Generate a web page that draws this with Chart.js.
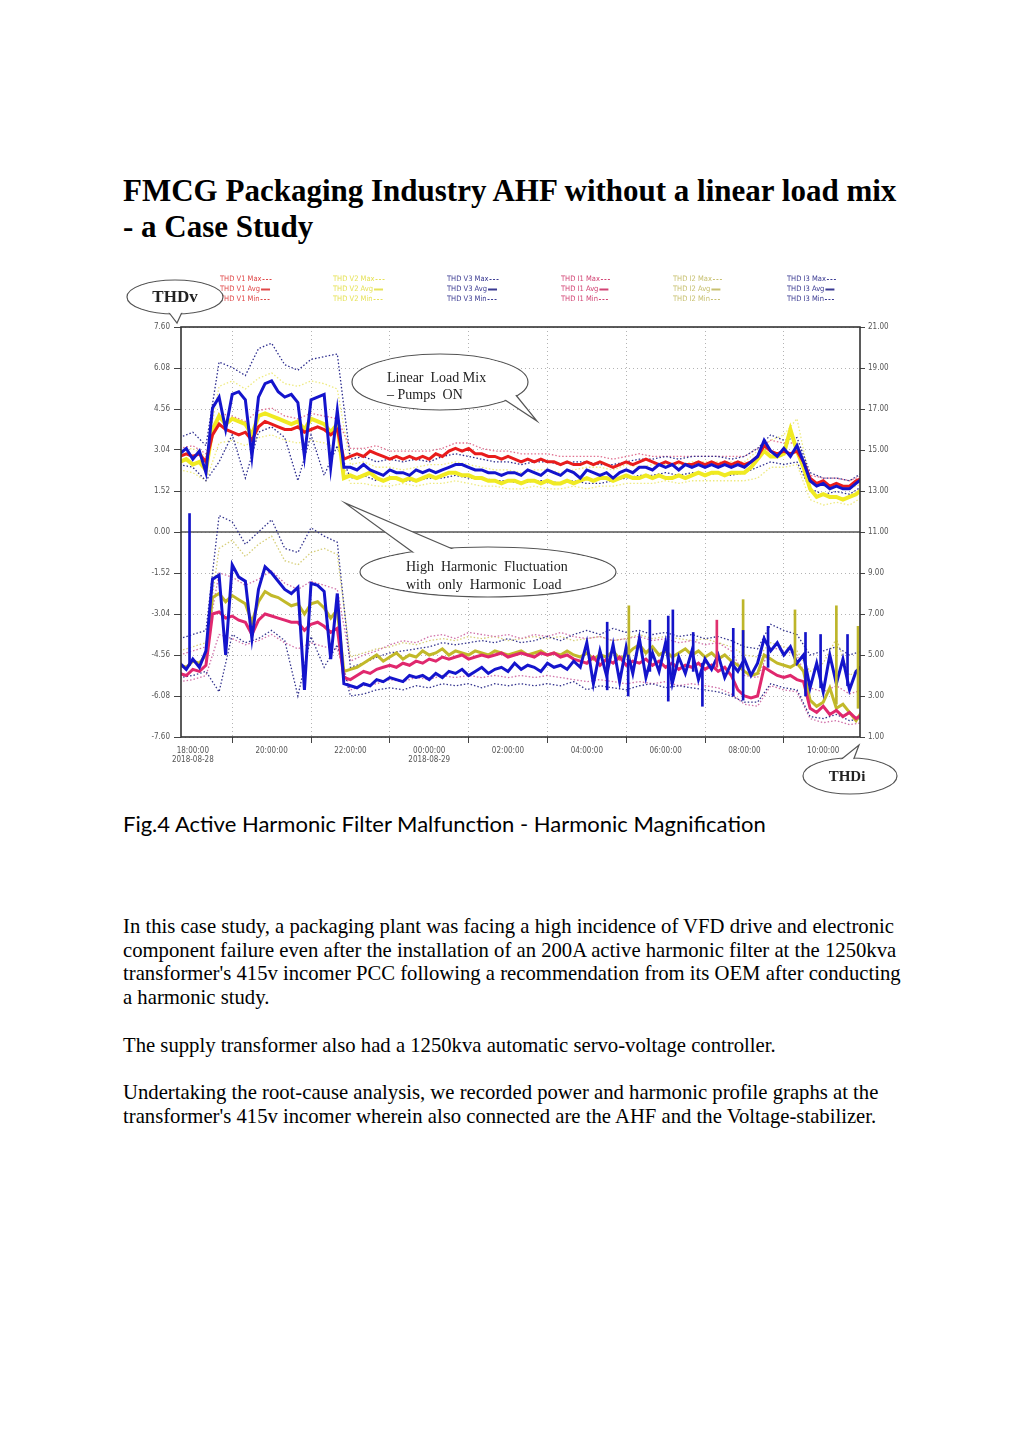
<!DOCTYPE html>
<html>
<head>
<meta charset="utf-8">
<script src="https://cdn.jsdelivr.net/npm/chart.js@4.4.0/dist/chart.umd.min.js"></script>
<style>
body { margin: 0; background: #fff; width: 1023px; height: 1447px; position: relative; overflow: hidden; }
#title { position: absolute; left: 123px; top: 173px; width: 820px; font: bold 31px/36px 'Liberation Serif', serif; color: #000; white-space: nowrap; }
#wrap { position: absolute; left: 123px; top: 268px; width: 780px; height: 530px; }
#caption { position: absolute; left: 123px; top: 810px; font: 22px/27px Lato, sans-serif; color: #000; white-space: nowrap; }
#body { position: absolute; left: 123px; top: 915px; font: 20.7px/23.7px 'Liberation Serif', serif; color: #000; white-space: nowrap; }
#body p { margin: 0 0 23.7px 0; }
</style>
</head>
<body>
<div id="title">FMCG Packaging Industry AHF without a linear load mix<br>- a Case Study</div>
<div id="wrap"><canvas id="thd" width="780" height="530"></canvas></div>
<div id="caption">Fig.4 Active Harmonic Filter Malfunction - Harmonic Magnification</div>
<div id="body">
<p>In this case study, a packaging plant was facing a high incidence of VFD drive and electronic<br>component failure even after the installation of an 200A active harmonic filter at the 1250kva<br>transformer's 415v incomer PCC following a recommendation from its OEM after conducting<br>a harmonic study.</p>
<p>The supply transformer also had a 1250kva automatic servo-voltage controller.</p>
<p>Undertaking the root-cause analysis, we recorded power and harmonic profile graphs at the<br>transformer's 415v incomer wherein also connected are the AHF and the Voltage-stabilizer.</p>
</div>
<script>
// time in minutes after 18:00 on 2018-08-28
const xTicks = [0, 120, 240, 360, 480, 600, 720, 840, 960];
const xTickLabels = [['18:00:00', '2018-08-28'], '20:00:00', '22:00:00', ['00:00:00', '2018-08-29'], '02:00:00', '04:00:00', '06:00:00', '08:00:00', '10:00:00'];
const leftTicks = [-7.60, -6.08, -4.56, -3.04, -1.52, 0, 1.52, 3.04, 4.56, 6.08, 7.60];
const rightTicks = [1, 3, 5, 7, 9, 11, 13, 15, 17, 19, 21];

// 10 minute samples (averages)
const tAvg = [
  -20, -10, 0, 10, 20, 30, 40, 50, 60, 70,
  80, 90, 100, 110, 120, 130, 140, 150, 160, 170,
  180, 190, 200, 210, 220, 230, 240, 250, 260, 270,
  280, 290, 300, 310, 320, 330, 340, 350, 360, 370,
  380, 390, 400, 410, 420, 430, 440, 450, 460, 470,
  480, 490, 500, 510, 520, 530, 540, 550, 560, 570,
  580, 590, 600, 610, 620, 630, 640, 650, 660, 670,
  680, 690, 700, 710, 720, 730, 740, 750, 760, 770,
  780, 790, 800, 810, 820, 830, 840, 850, 860, 870,
  880, 890, 900, 910, 920, 930, 940, 950, 960, 970,
  980, 990, 1000, 1010, 1020
];
// 20 minute samples (max / min)
const tMm = [
  -20, 0, 20, 40, 60, 80, 100, 120, 140, 160,
  180, 200, 220, 240, 260, 280, 300, 320, 340, 360,
  380, 400, 420, 440, 460, 480, 500, 520, 540, 560,
  580, 600, 620, 640, 660, 680, 700, 720, 740, 760,
  780, 800, 820, 840, 860, 880, 900, 920, 940, 960,
  980, 1000, 1020
];

// THDv (left axis)
const v1Avg = [
  2.8, 2.9, 2.8, 2.9, 2.6, 3.6, 4.0, 3.8, 3.7, 3.6,
  3.7, 3.4, 3.9, 4.1, 4.0, 3.9, 3.8, 3.8, 3.9, 3.7,
  3.8, 3.9, 3.8, 3.6, 3.8, 2.7, 2.8, 2.9, 2.8, 3.0,
  2.9, 2.8, 2.7, 2.8, 2.7, 2.8, 2.7, 2.8, 2.7, 2.9,
  2.8, 3.0, 3.1, 3.0, 3.1, 2.9, 2.9, 2.8, 2.8, 2.7,
  2.8, 2.7, 2.6, 2.7, 2.6, 2.7, 2.6, 2.6, 2.5, 2.6,
  2.5, 2.5, 2.6, 2.5, 2.6, 2.5, 2.4, 2.5, 2.6, 2.5,
  2.6, 2.7, 2.6, 2.5, 2.6, 2.5, 2.6, 2.5, 2.5, 2.6,
  2.5, 2.6, 2.5, 2.6, 2.5, 2.6, 2.5, 2.6, 2.8, 3.2,
  3.0, 2.9, 3.0, 2.9, 3.0, 2.6, 2.0, 1.8, 1.9, 1.7,
  1.8, 1.7, 1.7, 1.9, 2.0
];
const v2Avg = [
  2.6, 2.7, 2.5, 2.6, 2.3, 3.8, 4.3, 4.0, 4.2, 4.1,
  4.0, 3.6, 4.3, 4.4, 4.3, 4.2, 4.1, 4.0, 4.1, 3.8,
  4.2, 4.1, 4.0, 3.7, 4.0, 2.0, 2.1, 2.0, 2.1, 2.2,
  2.0, 1.9, 2.0, 2.0, 1.9, 2.0, 1.9, 2.0, 2.1, 2.0,
  2.1, 2.2, 2.2, 2.1, 2.1, 2.0, 2.0, 1.9, 1.9, 1.8,
  1.9, 1.9, 1.8, 1.9, 1.9, 1.8, 1.9, 1.8, 1.8, 1.9,
  1.8, 1.9, 2.0, 1.9, 2.0, 2.0, 1.9, 2.0, 2.1, 2.0,
  2.0, 2.1, 2.0, 2.1, 2.0, 2.0, 2.1, 2.0, 2.1, 2.2,
  2.1, 2.2, 2.2, 2.1, 2.2, 2.2, 2.2, 2.4, 2.7, 3.0,
  2.8, 2.8, 2.9, 3.8, 3.0, 2.4, 1.6, 1.3, 1.4, 1.3,
  1.3, 1.2, 1.3, 1.4, 1.6
];
const v3Avg = [
  2.9, 3.1, 2.7, 3.0, 2.2, 4.6, 5.0, 3.8, 5.1, 5.2,
  4.9, 2.8, 5.0, 5.5, 5.6, 5.2, 5.0, 5.1, 4.8, 2.8,
  4.9, 5.0, 5.1, 2.4, 4.5, 2.4, 2.4, 2.3, 2.5, 2.3,
  2.2, 2.1, 2.3, 2.2, 2.2, 2.1, 2.3, 2.2, 2.3, 2.2,
  2.3, 2.4, 2.5, 2.5, 2.4, 2.3, 2.3, 2.2, 2.2, 2.1,
  2.2, 2.2, 2.1, 2.3, 2.2, 2.1, 2.3, 2.2, 2.1, 2.3,
  2.2, 2.0, 2.3, 2.2, 2.1, 2.2, 2.0, 2.2, 2.3, 2.2,
  2.4, 2.4, 2.3, 2.5, 2.4, 2.5, 2.3, 2.5, 2.4, 2.5,
  2.4, 2.5, 2.4, 2.5, 2.4, 2.5, 2.4, 2.6, 2.8, 3.4,
  3.0, 2.8, 3.1, 2.8, 3.2, 2.6, 1.9, 1.7, 1.8, 1.6,
  1.7, 1.6, 1.6, 1.8, 2.0
];
const v1Max = [
  3.1, 3.2, 2.9, 4.4, 4.3, 4.1, 4.5, 4.6, 4.3, 4.2,
  4.4, 4.3, 4.2, 3.1, 3.1, 3.2, 3.0, 3.0, 3.0, 3.0,
  3.1, 3.3, 3.3, 3.1, 3.0, 3.0, 2.9, 2.9, 2.9, 2.8,
  2.8, 2.8, 2.8, 2.7, 2.8, 2.9, 2.8, 2.8, 2.8, 2.8,
  2.8, 2.8, 2.8, 2.8, 3.1, 3.4, 3.3, 3.3, 2.1, 2.0,
  2.0, 1.9, 2.1
];
const v2Max = [
  3.0, 3.1, 2.8, 5.4, 5.6, 5.3, 5.7, 5.9, 5.5, 5.4,
  5.6, 5.5, 5.3, 2.5, 2.6, 2.4, 2.4, 2.3, 2.4, 2.5,
  2.5, 2.6, 2.5, 2.4, 2.3, 2.3, 2.2, 2.3, 2.3, 2.2,
  2.3, 2.4, 2.4, 2.3, 2.5, 2.4, 2.5, 2.5, 2.5, 2.6,
  2.6, 2.6, 2.6, 2.6, 3.0, 3.4, 3.6, 4.2, 1.9, 1.7,
  1.7, 1.6, 1.8
];
const v2Min = [
  2.3, 2.2, 1.9, 3.3, 3.4, 3.2, 3.5, 3.6, 3.4, 3.3,
  3.4, 3.3, 3.1, 1.8, 1.8, 1.7, 1.7, 1.8, 1.7, 1.8,
  1.8, 1.9, 1.8, 1.7, 1.7, 1.6, 1.6, 1.7, 1.6, 1.6,
  1.7, 1.6, 1.7, 1.7, 1.8, 1.8, 1.8, 1.9, 1.8, 1.9,
  1.9, 1.9, 1.9, 1.9, 2.0, 2.4, 2.4, 2.5, 1.2, 1.0,
  1.1, 1.0, 1.3
];
const v3Max = [
  3.5, 3.7, 3.2, 6.3, 6.1, 5.8, 6.8, 7.0, 6.2, 6.0,
  6.4, 6.5, 6.6, 2.7, 2.8, 2.6, 2.7, 2.6, 2.7, 2.6,
  2.8, 2.9, 2.8, 2.7, 2.6, 2.6, 2.5, 2.6, 2.6, 2.5,
  2.6, 2.6, 2.5, 2.5, 2.6, 2.7, 2.7, 2.8, 2.7, 2.8,
  2.8, 2.8, 2.7, 2.8, 3.1, 3.6, 3.4, 3.5, 2.2, 2.0,
  2.0, 1.9, 2.2
];
const v3Min = [
  2.5, 2.4, 1.9, 2.6, 3.6, 2.0, 3.7, 3.9, 3.5, 1.9,
  3.6, 2.1, 3.2, 2.0, 2.1, 1.9, 2.0, 1.9, 1.9, 2.0,
  2.0, 2.1, 2.0, 2.0, 1.9, 1.9, 1.8, 1.9, 1.9, 1.8,
  1.9, 1.8, 1.8, 1.9, 2.0, 2.1, 2.1, 2.2, 2.1, 2.2,
  2.1, 2.2, 2.1, 2.2, 2.4, 2.6, 2.5, 2.6, 1.6, 1.4,
  1.5, 1.4, 1.7
];

// THDi (right axis)
const i1Avg = [
  4.1, 4.0, 4.3, 4.2, 4.5, 7.0, 7.1, 6.8, 6.9, 6.7,
  6.6, 6.0, 6.7, 7.0, 6.9, 6.8, 6.7, 6.6, 6.6, 6.2,
  6.5, 6.6, 6.4, 6.1, 6.3, 3.9, 3.8, 4.0, 4.2, 4.1,
  4.3, 4.4, 4.5, 4.4, 4.6, 4.5, 4.7, 4.6, 4.8, 4.7,
  4.9, 4.8, 4.9, 5.0, 4.8, 4.9, 5.0, 4.9, 5.0, 5.1,
  4.9, 5.0, 5.1, 5.0, 4.9, 5.1, 5.0, 5.1, 4.9, 5.0,
  4.8, 4.7, 4.6, 4.9, 4.5, 4.8, 4.6, 4.9, 4.5, 4.7,
  4.6, 4.8, 4.5, 4.7, 4.4, 4.6, 4.3, 4.5, 4.4, 4.6,
  4.3, 4.5, 4.2, 4.4, 4.0, 3.3, 3.0, 2.9, 3.0, 4.4,
  4.2, 4.0, 3.9, 4.0, 3.8, 3.7, 2.4, 2.2, 2.5, 2.1,
  2.3, 2.0, 2.2, 1.9, 2.1
];
const i2Avg = [
  4.5, 4.4, 4.7, 4.6, 5.0, 7.8, 8.0, 7.6, 7.9, 7.7,
  7.5, 6.6, 7.6, 8.1, 7.9, 7.8, 7.6, 7.4, 7.5, 7.0,
  7.5, 7.6, 7.3, 6.8, 7.2, 4.2, 4.3, 4.4, 4.6, 4.8,
  5.0, 4.7, 4.9, 5.1, 4.8, 5.0, 4.9, 5.2, 5.0, 5.1,
  5.3, 5.0, 5.2, 5.1, 5.0, 5.2, 5.1, 5.0, 5.2, 5.1,
  5.0, 5.1, 5.2, 5.0, 5.1, 5.2, 5.0, 5.1, 5.0, 5.2,
  5.0, 4.9, 5.1, 4.8, 5.0, 4.9, 5.2, 4.8, 5.0, 5.3,
  5.5, 5.1, 5.4, 5.0, 5.2, 4.9, 5.1, 5.3, 5.0, 5.2,
  4.9, 5.1, 4.8, 5.0, 4.7, 4.5, 4.2, 4.0, 4.1, 5.0,
  4.8, 4.6, 4.5, 4.4, 4.6, 4.2, 2.8, 2.5, 2.7, 3.4,
  2.4, 2.6, 2.2, 1.8, 2.3
];
const i3Avg = [
  4.6, 4.3, 4.8, 4.4, 5.2, 8.7, 8.9, 5.0, 9.4, 8.8,
  8.6, 5.8, 8.2, 9.3, 9.0, 8.6, 8.2, 8.0, 8.3, 3.3,
  8.5, 8.4, 8.1, 4.8, 8.0, 3.6, 3.5, 3.4, 3.6, 3.5,
  3.8, 3.7, 3.9, 3.8, 3.7, 4.0, 3.9, 4.0, 3.8, 4.1,
  3.9, 4.2, 4.1, 4.3, 4.0, 4.2, 4.4, 4.1, 4.3, 4.4,
  4.2, 4.6, 4.3, 4.5, 4.4, 4.2, 4.6, 4.4, 4.5, 4.3,
  4.7, 4.4, 5.6, 3.6, 5.2, 4.0, 5.5, 3.7, 5.4, 4.1,
  5.8, 3.9, 5.1, 4.2, 5.6, 3.6, 4.9, 4.1, 5.2, 3.8,
  4.8, 4.3, 5.0, 3.9, 4.6, 4.2, 4.8, 4.0, 4.6, 5.8,
  5.2, 5.6, 5.0, 5.4, 4.6, 5.0, 3.4, 4.6, 3.2, 5.0,
  3.6, 4.8, 3.3, 4.2, 4.5
];
const i1Max = [
  5.0, 5.2, 5.4, 9.0, 8.8, 8.4, 8.7, 9.1, 8.5, 8.2,
  8.6, 8.4, 8.2, 4.7, 5.0, 5.2, 5.5, 5.7, 5.6, 5.9,
  6.0, 5.8, 6.1, 6.0, 5.9, 6.0, 5.8, 6.0, 5.9, 6.1,
  5.9, 5.8, 5.9, 5.7, 5.8, 5.9, 5.7, 5.8, 5.6, 5.7,
  5.5, 5.6, 5.2, 4.0, 3.9, 5.4, 5.2, 5.0, 3.4, 3.2,
  3.5, 3.1, 3.3
];
const i1Min = [
  3.7, 3.8, 4.0, 6.0, 5.8, 5.5, 5.7, 6.0, 5.6, 5.3,
  5.6, 5.4, 5.3, 3.3, 3.5, 3.6, 3.8, 3.7, 3.9, 3.8,
  4.0, 3.9, 4.0, 3.9, 4.0, 3.9, 4.0, 3.9, 4.0, 3.9,
  3.8, 3.7, 3.8, 3.7, 3.6, 3.7, 3.6, 3.7, 3.5, 3.6,
  3.5, 3.4, 3.1, 2.6, 2.5, 3.5, 3.3, 3.2, 1.9, 1.7,
  1.8, 1.6, 1.7
];
const i2Max = [
  5.2, 5.4, 5.6, 10.2, 10.6, 9.8, 10.4, 10.8, 9.6, 9.4,
  10.0, 10.2, 9.9, 4.9, 5.1, 5.3, 5.4, 5.6, 5.5, 5.7,
  5.8, 5.7, 5.9, 5.8, 5.9, 5.7, 5.8, 5.9, 5.8, 5.9,
  5.7, 5.8, 5.9, 5.7, 5.8, 6.0, 5.8, 5.9, 5.8, 5.7,
  5.8, 5.6, 5.4, 5.0, 4.9, 5.6, 5.4, 5.2, 4.2, 4.6,
  5.8, 4.0, 4.4
];
const i3Max = [
  5.8, 6.0, 6.2, 11.8, 11.5, 10.4, 11.0, 11.6, 10.2, 10.0,
  11.2, 10.8, 10.5, 4.4, 4.6, 4.9, 5.1, 5.2, 5.3, 5.4,
  5.6, 5.5, 5.6, 5.7, 5.6, 5.8, 5.6, 5.7, 5.9, 5.7,
  6.0, 6.2, 6.0, 6.3, 6.1, 6.2, 6.0, 6.1, 5.9, 6.0,
  5.8, 5.9, 5.7, 5.4, 5.3, 6.5, 6.2, 6.0, 5.0, 5.2,
  5.4, 5.0, 5.2
];
const i3Min = [
  3.9, 4.0, 4.2, 3.2, 6.0, 5.6, 5.8, 6.2, 5.7, 3.0,
  5.9, 4.4, 5.5, 3.0, 3.1, 3.3, 3.4, 3.3, 3.5, 3.4,
  3.6, 3.5, 3.6, 3.4, 3.6, 3.5, 3.6, 3.5, 3.6, 3.5,
  3.7, 3.3, 3.5, 3.4, 3.3, 3.5, 3.6, 3.4, 3.5, 3.4,
  3.3, 3.2, 3.0, 2.7, 2.7, 3.6, 3.4, 3.3, 2.0, 1.9,
  2.1, 1.8, 1.9
];

// single-sample spikes of the current THD (right axis)
const i3SpikeT = [-5, 631, 663, 696, 724, 731, 762, 776, 823, 838, 876, 933, 956, 997];
const i3SpikeLo = [4.5, 3.3, 3.0, 4.2, 2.75, 4.0, 4.2, 2.5, 3.0, 2.8, 4.4, 3.0, 3.4, 3.5];
const i3SpikeHi = [11.9, 6.6, 5.0, 6.7, 6.9, 7.2, 6.1, 4.6, 6.3, 6.2, 6.4, 6.1, 6.0, 6.0];
const i2SpikeT = [664, 838, 917, 980, 1013];
const i2SpikeLo = [4.8, 4.8, 4.6, 2.6, 2.4];
const i2SpikeHi = [7.4, 7.7, 7.2, 7.4, 6.4];
const i1SpikeT = [798];
const i1SpikeLo = [4.4];
const i1SpikeHi = [6.7];

const tickFont = { family: "'Liberation Sans Narrow', 'DejaVu Sans Condensed', sans-serif", size: 8 };

function pts(ts, vals) {
    return ts.map((t, i) => ({ x: t, y: vals[i] }));
}

function spikes(ts, lo, hi) {
    return ts.map((t, i) => ({ x: t, y: [lo[i], hi[i]] }));
}

function solid(label, ts, vals, color, axis, order, width) {
    return { label, data: pts(ts, vals), borderColor: color, borderWidth: width, yAxisID: axis,
             order, pointRadius: 0, tension: 0, fill: false };
}

function dotted(label, ts, vals, color, axis, order) {
    return { label, data: pts(ts, vals), borderColor: color, borderWidth: 1.3, borderDash: [1.5, 2],
             yAxisID: axis, order, pointRadius: 0, tension: 0, fill: false };
}

function spikeBars(label, ts, lo, hi, color) {
    return { type: 'bar', label, data: spikes(ts, lo, hi), backgroundColor: color, yAxisID: 'y1',
             order: 0, barThickness: 2, grouped: false };
}

// legend rows and callouts drawn over the chart
const legendGroups = [
    { name: 'THD V1', color: '#e04848' },
    { name: 'THD V2', color: '#e6e25a' },
    { name: 'THD V3', color: '#3a3a92' },
    { name: 'THD I1', color: '#d24474' },
    { name: 'THD I2', color: '#c8c070' },
    { name: 'THD I3', color: '#3a3a92' }
];
const legendX = [97, 210, 324, 438, 550, 664];
const legendY = [11, 21, 31];

const callouts = [
    { cx: 52, cy: 29, rx: 48, ry: 17, b1: [44, 42], b2: [60, 42], tip: [54, 55],
      font: "bold 17px 'Liberation Serif', serif", align: 'center', tx: 52, ty: 30, lh: 0, lines: ['THDv'] },
    { cx: 317, cy: 114, rx: 88, ry: 28, b1: [379, 130], b2: [392, 126], tip: [414, 153],
      font: "14px 'Liberation Serif', serif", align: 'left', tx: 264, ty: 110, lh: 17, lines: ['Linear  Load Mix', '\u2013 Pumps  ON'] },
    { cx: 365, cy: 304, rx: 128, ry: 25, b1: [295, 288], b2: [339, 285], tip: [222, 235],
      font: "14px 'Liberation Serif', serif", align: 'left', tx: 283, ty: 299, lh: 18, lines: ['High  Harmonic  Fluctuation', 'with  only  Harmonic  Load'] },
    { cx: 727, cy: 508, rx: 47, ry: 18, b1: [715, 494], b2: [730, 493], tip: [736, 477],
      font: "bold 15px 'Liberation Serif', serif", align: 'center', tx: 724, ty: 509, lh: 0, lines: ['THDi'] }
];

function drawCallout(ctx, c) {
    ctx.save();
    ctx.fillStyle = '#fff';
    ctx.strokeStyle = '#555';
    ctx.lineWidth = 1.2;
    ctx.beginPath();
    ctx.ellipse(c.cx, c.cy, c.rx, c.ry, 0, 0, Math.PI * 2);
    ctx.fill();
    ctx.stroke();
    ctx.beginPath();
    ctx.moveTo(c.b1[0], c.b1[1]);
    ctx.lineTo(c.tip[0], c.tip[1]);
    ctx.lineTo(c.b2[0], c.b2[1]);
    ctx.closePath();
    ctx.fill();
    ctx.beginPath();
    ctx.moveTo(c.b1[0], c.b1[1]);
    ctx.lineTo(c.tip[0], c.tip[1]);
    ctx.lineTo(c.b2[0], c.b2[1]);
    ctx.stroke();
    ctx.beginPath();
    ctx.ellipse(c.cx, c.cy, c.rx - 1, c.ry - 1, 0, 0, Math.PI * 2);
    ctx.fill();
    ctx.fillStyle = '#222';
    ctx.font = c.font;
    ctx.textAlign = c.align;
    ctx.textBaseline = 'middle';
    c.lines.forEach((s, i) => ctx.fillText(s, c.tx, c.ty + i * c.lh));
    ctx.restore();
}

const decor = {
    id: 'decor',
    beforeDatasetsDraw(chart) {
        const { ctx, chartArea: a, scales } = chart;
        const y0 = scales.y.getPixelForValue(0);
        ctx.save();
        ctx.strokeStyle = '#555';
        ctx.lineWidth = 1.3;
        ctx.beginPath();
        ctx.moveTo(a.left, y0);
        ctx.lineTo(a.right, y0);
        ctx.stroke();
        ctx.restore();
    },
    afterDraw(chart) {
        const { ctx, chartArea: a } = chart;
        ctx.save();
        ctx.strokeStyle = '#333';
        ctx.lineWidth = 1.6;
        ctx.strokeRect(a.left, a.top, a.right - a.left, a.bottom - a.top);

        ctx.font = "7.5px 'Liberation Sans Narrow', 'DejaVu Sans Condensed', sans-serif";
        ctx.textBaseline = 'middle';
        legendGroups.forEach((g, gi) => {
            ['Max', 'Avg', 'Min'].forEach((kind, ri) => {
                const txt = g.name + ' ' + kind;
                const x = legendX[gi], y = legendY[ri];
                ctx.fillStyle = g.color;
                ctx.fillText(txt, x, y);
                const w = ctx.measureText(txt).width;
                ctx.strokeStyle = g.color;
                if (kind === 'Avg') {
                    ctx.lineWidth = 2;
                    ctx.setLineDash([]);
                } else {
                    ctx.lineWidth = 1;
                    ctx.setLineDash([2, 1.5]);
                }
                ctx.beginPath();
                ctx.moveTo(x + w + 1, y + 0.5);
                ctx.lineTo(x + w + 10, y + 0.5);
                ctx.stroke();
            });
        });
        ctx.setLineDash([]);
        ctx.restore();

        callouts.forEach(c => drawCallout(ctx, c));
    }
};

const datasets = [
    spikeBars('THD I3 spikes', i3SpikeT, i3SpikeLo, i3SpikeHi, '#1414c8'),
    spikeBars('THD I2 spikes', i2SpikeT, i2SpikeLo, i2SpikeHi, '#bdb52a'),
    spikeBars('THD I1 spikes', i1SpikeT, i1SpikeLo, i1SpikeHi, '#e0306e'),
    solid('THD V3 Avg', tAvg, v3Avg, '#1414cc', 'y', 1, 3),
    solid('THD I3 Avg', tAvg, i3Avg, '#1414cc', 'y1', 1, 3),
    solid('THD V1 Avg', tAvg, v1Avg, '#e81c1c', 'y', 2, 3),
    solid('THD I1 Avg', tAvg, i1Avg, '#e0286e', 'y1', 2, 3),
    solid('THD V2 Avg', tAvg, v2Avg, '#f0ea22', 'y', 3, 4),
    solid('THD I2 Avg', tAvg, i2Avg, '#c2b92a', 'y1', 3, 3),
    dotted('THD V3 Max', tMm, v3Max, '#2c2c8e', 'y', 4),
    dotted('THD V3 Min', tMm, v3Min, '#2c2c8e', 'y', 4),
    dotted('THD I3 Max', tMm, i3Max, '#34348e', 'y1', 4),
    dotted('THD I3 Min', tMm, i3Min, '#34348e', 'y1', 4),
    dotted('THD V1 Max', tMm, v1Max, '#e07090', 'y', 5),
    dotted('THD I1 Max', tMm, i1Max, '#d070a8', 'y1', 5),
    dotted('THD I1 Min', tMm, i1Min, '#d070a8', 'y1', 5),
    dotted('THD V2 Max', tMm, v2Max, '#eeea80', 'y', 6),
    dotted('THD V2 Min', tMm, v2Min, '#eeea80', 'y', 6),
    dotted('THD I2 Max', tMm, i2Max, '#d6ce78', 'y1', 6)
];

const ctx = document.getElementById('thd').getContext('2d');
new Chart(ctx, {
    type: 'line',
    data: { datasets },
    options: {
        responsive: false,
        animation: false,
        devicePixelRatio: 1,
        layout: { padding: { top: 59, left: 0, right: 0, bottom: 0 } },
        plugins: { legend: { display: false }, tooltip: { enabled: false } },
        scales: {
            x: {
                type: 'linear', min: -18, max: 1016, offset: false,
                afterBuildTicks: s => { s.ticks = xTicks.map(v => ({ value: v })); },
                afterFit: s => { s.height = 61; },
                ticks: { callback: (v, i) => xTickLabels[i], font: tickFont, color: '#555',
                         maxRotation: 0, autoSkip: false, padding: 3 },
                grid: { color: '#b3b3b3', tickColor: '#444', tickLength: 6, lineWidth: 1 },
                border: { display: false, dash: [1, 3] }
            },
            y: {
                type: 'linear', position: 'left', min: -7.6, max: 7.6,
                afterBuildTicks: s => { s.ticks = leftTicks.map(v => ({ value: v })); },
                afterFit: s => { s.width = 58; },
                ticks: { callback: v => v.toFixed(2), font: tickFont, color: '#555', padding: 4 },
                grid: { color: '#b3b3b3', tickColor: '#444', tickLength: 7, lineWidth: 1 },
                border: { display: false, dash: [1, 3] }
            },
            y1: {
                type: 'linear', position: 'right', min: 1, max: 21,
                afterBuildTicks: s => { s.ticks = rightTicks.map(v => ({ value: v })); },
                afterFit: s => { s.width = 43; },
                ticks: { callback: v => v.toFixed(2), font: tickFont, color: '#555', padding: 3 },
                grid: { drawOnChartArea: false, tickColor: '#444', tickLength: 5 },
                border: { display: false }
            }
        }
    },
    plugins: [decor]
});
</script>
</body>
</html>
